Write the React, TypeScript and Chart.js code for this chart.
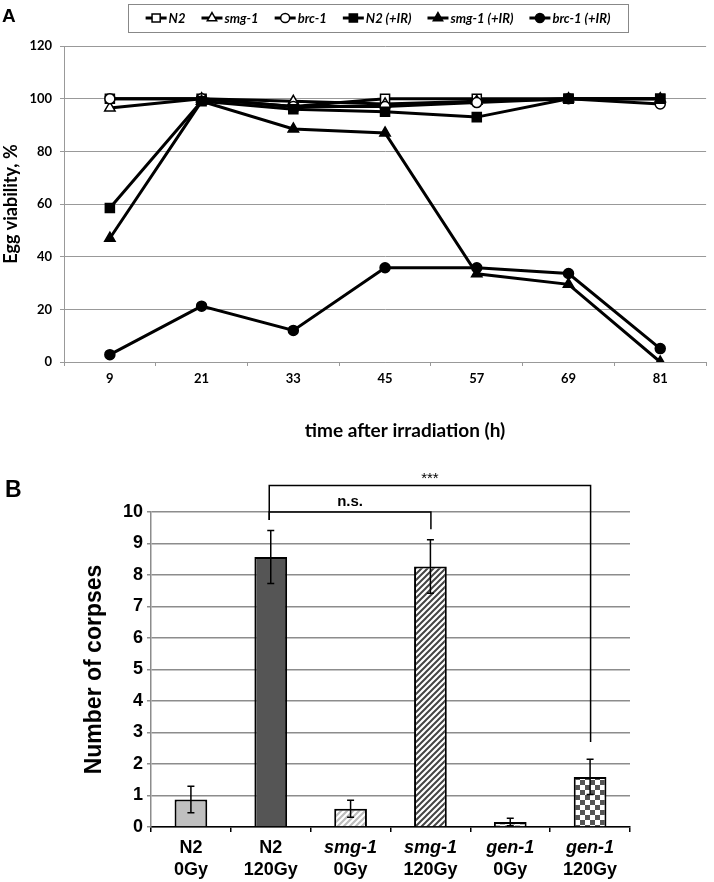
import React, { useEffect, useRef } from 'react';
import { Chart, registerables } from 'chart.js';

Chart.register(...registerables);

// ---------- Panel A data ----------
const timePoints = ['9', '21', '33', '45', '57', '69', '81'];
const viabilityTicks = [0, 20, 40, 60, 80, 100, 120];
const n2 = [100, 100, 97, 100, 100, 100, 100];
const smg1 = [96.5, 100, 99, 98, 99, 100, 100];
const brc1 = [100, 100, 97, 97, 98.5, 100, 98];
const n2IR = [58.5, 99, 96, 95, 93, 100, 100];
const smg1IR = [47, 99, 88.5, 87, 33.5, 29.5, 0];
const brc1IR = [2.8, 21.2, 12, 35.8, 35.8, 33.6, 5.1];
const seriesLabels = ['N2', 'smg-1', 'brc-1', 'N2 (+IR)', 'smg-1 (+IR)', 'brc-1 (+IR)'];

// ---------- Panel B data ----------
const genotypes = ['N2', 'N2', 'smg-1', 'smg-1', 'gen-1', 'gen-1'];
const doses = ['0Gy', '120Gy', '0Gy', '120Gy', '0Gy', '120Gy'];
const corpses = [0.87, 8.57, 0.58, 8.27, 0.16, 1.59];
const corpseErrors = [0.42, 0.84, 0.27, 0.85, 0.12, 0.56];
const corpseTicks = [0, 1, 2, 3, 4, 5, 6, 7, 8, 9, 10];
// significance brackets: [fromIndex, toIndex, barValue, leftDrop, rightDrop, label]
const brackets: [number, number, number, number, number, string][] = [
  [1, 3, 10.0, 9.75, 9.45, 'n.s.'],
  [1, 5, 10.84, 9.75, 2.7, '***'],
];

function drawMarker(ctx: CanvasRenderingContext2D, style: string, x: number, y: number, r: number, filled: boolean) {
  ctx.save();
  ctx.beginPath();
  if (style === 'rect') {
    const s = r * Math.SQRT1_2;
    ctx.rect(x - s, y - s, 2 * s, 2 * s);
  } else if (style === 'triangle') {
    let rad = 0;
    const t = (Math.PI * 2) / 3;
    ctx.moveTo(x + Math.sin(rad) * r, y - Math.cos(rad) * r);
    rad += t;
    ctx.lineTo(x + Math.sin(rad) * r, y - Math.cos(rad) * r);
    rad += t;
    ctx.lineTo(x + Math.sin(rad) * r, y - Math.cos(rad) * r);
    ctx.closePath();
  } else {
    ctx.arc(x, y, r, 0, Math.PI * 2);
  }
  ctx.fillStyle = filled ? '#000' : '#fff';
  ctx.fill();
  ctx.strokeStyle = '#000';
  ctx.lineWidth = 1.5;
  ctx.stroke();
  ctx.restore();
}

function makeHatch(color: string, lw: number) {
  const n = 6;
  const c = document.createElement('canvas');
  c.width = n;
  c.height = n;
  const g = c.getContext('2d')!;
  g.fillStyle = '#fff';
  g.fillRect(0, 0, n, n);
  g.strokeStyle = color;
  g.lineWidth = lw;
  g.beginPath();
  g.moveTo(-1, n + 1);
  g.lineTo(n + 1, -1);
  g.moveTo(-2, 2);
  g.lineTo(2, -2);
  g.moveTo(n - 2, n + 2);
  g.lineTo(n + 2, n - 2);
  g.stroke();
  return g.createPattern(c, 'repeat')!;
}

function makeChecker(color: string, cell: number) {
  const c = document.createElement('canvas');
  c.width = cell * 2;
  c.height = cell * 2;
  const g = c.getContext('2d')!;
  g.fillStyle = '#fff';
  g.fillRect(0, 0, cell * 2, cell * 2);
  g.fillStyle = color;
  g.fillRect(0, 0, cell, cell);
  g.fillRect(cell, cell, cell, cell);
  return g.createPattern(c, 'repeat')!;
}

const styleA = [
  { pointStyle: 'rect', r: 6.4, filled: false },
  { pointStyle: 'triangle', r: 6, filled: false },
  { pointStyle: 'circle', r: 5, filled: false },
  { pointStyle: 'rect', r: 6.4, filled: true },
  { pointStyle: 'triangle', r: 6, filled: true },
  { pointStyle: 'circle', r: 5, filled: true },
];

export default function App() {
  const refA = useRef<HTMLCanvasElement>(null);
  const refB = useRef<HTMLCanvasElement>(null);

  useEffect(() => {
    const seriesData = [n2, smg1, brc1, n2IR, smg1IR, brc1IR];
    const legendPlugin = {
      id: 'legendA',
      afterDraw(chart: any) {
        const ctx: CanvasRenderingContext2D = chart.ctx;
        ctx.save();
        // Panel letter
        ctx.fillStyle = '#000';
        ctx.font = 'bold 19px "Liberation Sans"';
        ctx.textBaseline = 'alphabetic';
        ctx.textAlign = 'left';
        ctx.fillText('A', 2, 22);
        // legend box
        const boxL = 128, boxR = 628, boxT = 4, boxB = 32;
        ctx.strokeStyle = '#888';
        ctx.lineWidth = 1;
        ctx.strokeRect(boxL + 0.5, boxT + 0.5, boxR - boxL, boxB - boxT);
        ctx.font = 'italic bold 13px Lato';
        const lineLen = 21, textGap = 2, itemGap = 16;
        const ds = chart.data.datasets;
        const widths = ds.map((d: any) => ctx.measureText(d.label).width);
        const total = widths.reduce((a: number, w: number) => a + lineLen + textGap + w, 0) + itemGap * (ds.length - 1);
        let x = (boxL + boxR) / 2 - total / 2;
        const cy = 18;
        ds.forEach((d: any, i: number) => {
          ctx.strokeStyle = '#000';
          ctx.lineWidth = 3;
          ctx.beginPath();
          ctx.moveTo(x, cy);
          ctx.lineTo(x + lineLen, cy);
          ctx.stroke();
          drawMarker(ctx, styleA[i].pointStyle, x + lineLen / 2, cy, styleA[i].r * 0.9, styleA[i].filled);
          ctx.fillStyle = '#000';
          ctx.textBaseline = 'middle';
          ctx.fillText(d.label, x + lineLen + textGap, cy + 1);
          x += lineLen + textGap + widths[i] + itemGap;
        });
        // x-axis title
        const area = chart.chartArea;
        ctx.font = 'bold 19px Lato';
        ctx.textAlign = 'center';
        ctx.textBaseline = 'alphabetic';
        ctx.fillText('time after irradiation (h)', (area.left + area.right) / 2 + 20, 437);
        ctx.restore();
      },
    };

    const chartA = new Chart(refA.current!, {
      type: 'line',
      data: {
        labels: timePoints,
        datasets: seriesData.map((d, i) => ({
          label: seriesLabels[i],
          data: d,
          borderColor: '#000',
          borderWidth: 3,
          pointStyle: styleA[i].pointStyle as any,
          pointRadius: styleA[i].r,
          pointBackgroundColor: styleA[i].filled ? '#000' : '#fff',
          pointBorderColor: '#000',
          pointBorderWidth: 1.5,
          tension: 0,
          order: 5 - i,
        })),
      },
      options: {
        animation: false,
        responsive: false,
        layout: { padding: { top: 46, right: 3, left: 0, bottom: 0 } },
        plugins: { legend: { display: false }, tooltip: { enabled: false } },
        scales: {
          x: {
            type: 'category',
            offset: true,
            grid: { offset: true, drawOnChartArea: false, tickLength: 4, color: '#999' },
            border: { color: '#999' },
            ticks: { font: { family: 'Lato', weight: 'bold', size: 13 }, color: '#000', padding: 5 },
            afterFit: (s: any) => { s.height = 88; },
          },
          y: {
            min: 0,
            max: 120,
            afterBuildTicks: (s: any) => { s.ticks = viabilityTicks.map((v) => ({ value: v })); },
            grid: { color: '#999', tickLength: 4 },
            border: { color: '#999' },
            ticks: { font: { family: 'Lato', weight: 'bold', size: 13 }, color: '#000', padding: 8 },
            title: {
              display: true,
              text: 'Egg viability, %',
              font: { family: 'Lato', weight: 'bold', size: 18 },
              color: '#000',
              padding: { top: 0, bottom: 0 },
            },
            afterFit: (s: any) => { s.width = 64; },
          },
        },
      },
      plugins: [legendPlugin],
    } as any);

    // ---------- Panel B ----------
    const fills = [
      '#bfbfbf',
      '#555555',
      makeHatch('#bdbdbd', 2.2),
      makeHatch('#444444', 2),
      makeChecker('#bdbdbd', 5),
      makeChecker('#555555', 5),
    ];

    const extrasB = {
      id: 'extrasB',
      afterDatasetsDraw(chart: any) {
        const ctx: CanvasRenderingContext2D = chart.ctx;
        const ys = chart.scales.y;
        const meta = chart.getDatasetMeta(0);
        ctx.save();
        ctx.strokeStyle = '#000';
        ctx.lineWidth = 1.5;
        corpses.forEach((v, i) => {
          const x = meta.data[i].x;
          const yt = ys.getPixelForValue(v + corpseErrors[i]);
          const yb = ys.getPixelForValue(Math.max(0, v - corpseErrors[i]));
          ctx.beginPath();
          ctx.moveTo(x, yt);
          ctx.lineTo(x, yb);
          ctx.moveTo(x - 3.5, yt);
          ctx.lineTo(x + 3.5, yt);
          ctx.moveTo(x - 3.5, yb);
          ctx.lineTo(x + 3.5, yb);
          ctx.stroke();
        });
        ctx.restore();
      },
      afterDraw(chart: any) {
        const ctx: CanvasRenderingContext2D = chart.ctx;
        const xs = chart.scales.x;
        const ys = chart.scales.y;
        ctx.save();
        ctx.fillStyle = '#000';
        ctx.strokeStyle = '#000';
        // panel letter
        ctx.font = 'bold 23px "Liberation Sans"';
        ctx.textAlign = 'left';
        ctx.textBaseline = 'alphabetic';
        ctx.fillText('B', 5, 47);
        // brackets
        ctx.lineWidth = 1.5;
        brackets.forEach(([a, b, top, dl, dr, label]) => {
          const xa = xs.getPixelForValue(a) - 1.5;
          const xb = xs.getPixelForValue(b) + 0.5;
          const yt = ys.getPixelForValue(top);
          ctx.beginPath();
          ctx.moveTo(xa, ys.getPixelForValue(dl));
          ctx.lineTo(xa, yt);
          ctx.lineTo(xb, yt);
          ctx.lineTo(xb, ys.getPixelForValue(dr));
          ctx.stroke();
          ctx.textAlign = 'center';
          ctx.textBaseline = 'alphabetic';
          ctx.font = label === '***' ? '15px "Liberation Sans"' : 'bold 15px "Liberation Sans"';
          ctx.fillText(label, (xa + xb) / 2, yt - (label === '***' ? 3 : 6));
        });
        // category labels
        ctx.textAlign = 'center';
        ctx.textBaseline = 'middle';
        genotypes.forEach((gname, i) => {
          const x = xs.getPixelForValue(i);
          ctx.font = (gname === 'N2' ? '' : 'italic ') + 'bold 18px "Liberation Sans"';
          ctx.fillText(gname, x, 398);
          ctx.font = 'bold 18px "Liberation Sans"';
          ctx.fillText(doses[i], x, 420);
        });
        ctx.restore();
      },
    };

    const chartB = new Chart(refB.current!, {
      type: 'bar',
      data: {
        labels: genotypes.map((g, i) => g + ' ' + doses[i]),
        datasets: [
          {
            data: corpses,
            backgroundColor: fills as any,
            borderColor: '#000',
            borderWidth: 2,
            categoryPercentage: 1,
            barPercentage: 0.41,
          },
        ],
      },
      options: {
        animation: false,
        responsive: false,
        layout: { padding: { top: 62, right: 84, left: 0, bottom: 0 } },
        plugins: { legend: { display: false }, tooltip: { enabled: false } },
        scales: {
          x: {
            offset: true,
            grid: { offset: true, drawOnChartArea: false, tickLength: 5, color: '#000', lineWidth: 1.5 },
            border: { color: '#000', width: 1.5 },
            ticks: { display: false },
            afterFit: (s: any) => { s.height = 55; },
          },
          y: {
            min: 0,
            max: 10,
            afterBuildTicks: (s: any) => { s.ticks = corpseTicks.map((v) => ({ value: v })); },
            grid: { color: '#8c8c8c', lineWidth: 1.5, tickLength: 4 },
            border: { color: '#8c8c8c', width: 1.5 },
            ticks: { font: { family: 'Liberation Sans', weight: 'bold', size: 18 }, color: '#000', padding: 4 },
            title: {
              display: true,
              text: 'Number of corpses',
              font: { family: 'Liberation Sans', weight: 'bold', size: 23 },
              color: '#000',
              padding: { top: 81, bottom: 0 },
            },
            afterFit: (s: any) => { s.width = 151; },
          },
        },
      },
      plugins: [extrasB],
    } as any);

    return () => {
      chartA.destroy();
      chartB.destroy();
    };
  }, []);

  return (
    <div style={{ position: 'absolute', left: 0, top: 0, width: 714, height: 882, background: '#fff' }}>
      <canvas ref={refA} width={714} height={450} style={{ position: 'absolute', left: 0, top: 0, width: 714, height: 450 }} />
      <canvas ref={refB} width={714} height={432} style={{ position: 'absolute', left: 0, top: 450, width: 714, height: 432 }} />
    </div>
  );
}
